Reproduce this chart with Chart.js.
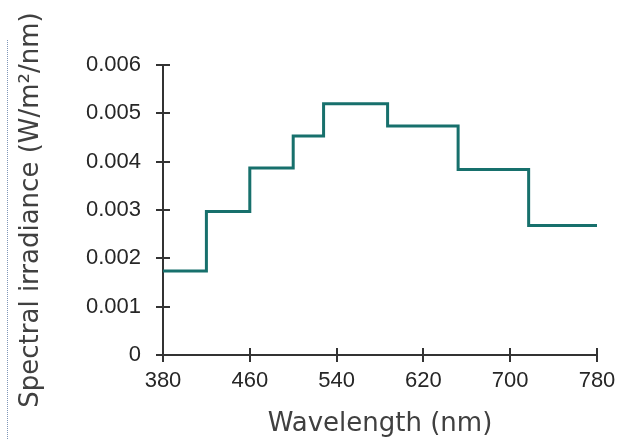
<!DOCTYPE html>
<html>
<head>
<meta charset="utf-8">
<script src="https://cdn.jsdelivr.net/npm/chart.js@4"></script>
<style>
  body { margin: 0; background: #fff; }
  #wrap { position: relative; width: 624px; height: 439px; }
  #edge { position: absolute; left: 7px; top: 40px; height: 399px; border-left: 1px dotted #7f96b8; }
</style>
</head>
<body>
<div id="wrap">
  <div id="edge"></div>
  <canvas id="myChart"></canvas>
</div>
<script>
// band edges (nm) and spectral irradiance per band (W/m2/nm)
const wavelengths = [380, 420, 460, 500, 528, 587, 652, 717, 780];
const irradiance = [0.00174, 0.00297, 0.00387, 0.00453, 0.00520, 0.00474, 0.00384, 0.00268, 0.00268];
const xTicks = [380, 460, 540, 620, 700, 780];
const yTicks = [0, 0.001, 0.002, 0.003, 0.004, 0.005, 0.006];

function zipxy(xs, ys) {
  const obj = [];
  for (let i = 0; i < xs.length; i++) obj.push({x: xs[i], y: ys[i]});
  return obj;
}

// Ticks that cross the axis line (Chart.js only draws the outside half)
const crossTicks = {
  id: 'crossTicks',
  afterDraw(chart) {
    const {ctx, chartArea, scales} = chart;
    ctx.save();
    ctx.strokeStyle = '#333333';
    ctx.lineWidth = 2;
    ctx.beginPath();
    scales.x.ticks.forEach((t, i) => {
      const px = Math.round(scales.x.getPixelForTick(i));
      ctx.moveTo(px, chartArea.bottom);
      ctx.lineTo(px, chartArea.bottom - 7);
    });
    scales.y.ticks.forEach((t, i) => {
      const py = Math.round(scales.y.getPixelForTick(i));
      ctx.moveTo(chartArea.left, py);
      ctx.lineTo(chartArea.left + 7, py);
    });
    ctx.stroke();
    ctx.restore();
  }
};

const tickFont = {family: '"Liberation Sans", Arial, sans-serif', size: 22};
const titleFont = {family: '"DejaVu Sans", sans-serif', size: 26};

const config = {
  type: 'line',
  data: {
    datasets: [{
      data: zipxy(wavelengths, irradiance),
      borderColor: '#17706c',
      borderWidth: 3,
      pointRadius: 0,
      stepped: true,
      fill: false
    }]
  },
  options: {
    responsive: true,
    maintainAspectRatio: false,
    animation: false,
    layout: {padding: {left: 16, right: 27, top: 65, bottom: 0}},
    plugins: {legend: {display: false}, tooltip: {enabled: false}},
    scales: {
      x: {
        type: 'linear',
        min: 380,
        max: 780,
        afterBuildTicks(scale) { scale.ticks = xTicks.map(v => ({value: v})); },
        afterFit(scale) { scale.height = 439 - 355; },
        grid: {drawOnChartArea: false, tickLength: 7, color: '#333333', lineWidth: 2},
        border: {color: '#333333', width: 2},
        ticks: {font: tickFont, color: '#262626', padding: 6, maxRotation: 0},
        title: {display: true, text: 'Wavelength (nm)', font: titleFont, color: '#404040', padding: {top: 0, bottom: -1}}
      },
      y: {
        min: 0,
        max: 0.006,
        afterBuildTicks(scale) { scale.ticks = yTicks.map(v => ({value: v})); },
        afterFit(scale) { scale.width = 163 - 16; },
        grid: {drawOnChartArea: false, tickLength: 7, color: '#333333', lineWidth: 2},
        border: {color: '#333333', width: 2},
        ticks: {font: tickFont, color: '#262626', padding: 15, callback: v => String(v)},
        title: {display: true, text: 'Spectral irradiance (W/m²/nm)', font: titleFont, color: '#404040', padding: {top: 0, bottom: 4}}
      }
    }
  },
  plugins: [crossTicks]
};

new Chart(document.getElementById('myChart'), config);
</script>
</body>
</html>
